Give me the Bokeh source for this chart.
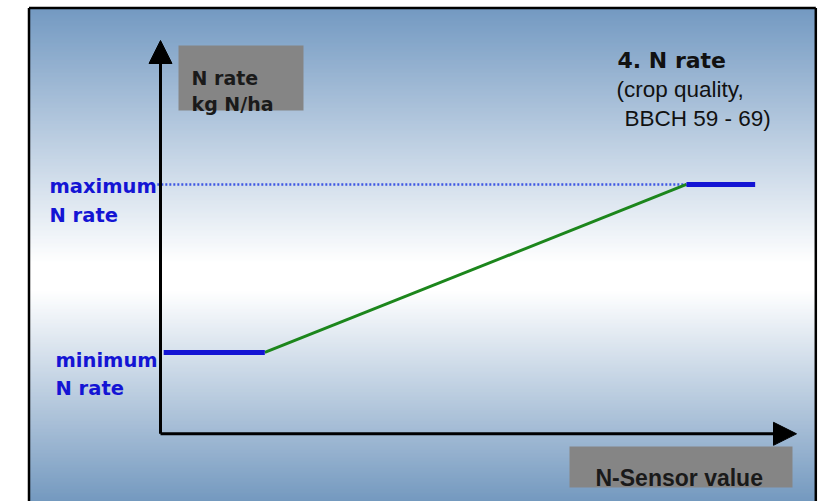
import numpy as np
from bokeh.plotting import figure
from bokeh.models import Range1d, Arrow, NormalHead
from bokeh.core.properties import value
from bokeh.embed import file_html
from bokeh.resources import INLINE

# ---------------- data (conceptual units: 0..100 on both axes) ----------------
sensor_points = [0.5, 16.4, 82.7, 93.5]      # N-Sensor value breakpoints
n_rate_points = [20.7, 20.7, 63.4, 63.4]     # N rate at those breakpoints
min_rate = 20.7
max_rate = 63.4
axis_max = 100
y_label_lines = ["N rate", "kg N/ha"]
x_label = "N-Sensor value"
title_lines = ["4. N rate", "(crop quality,", "BBCH 59 - 69)"]
max_label = ["maximum", "N rate"]
min_label = ["minimum", "N rate"]

# ---------------- layout ----------------
W, H = 826, 501
X0_PX, Y0_PX = 160.0, 433.3     # canvas position of the axes origin
PX_PER_X = 6.36
PX_PER_Y = 3.933

p = figure(width=W, height=H, output_backend="svg", toolbar_location=None,
           x_range=Range1d(-X0_PX / PX_PER_X, (W - X0_PX) / PX_PER_X),
           y_range=Range1d(-(H - Y0_PX) / PX_PER_Y, Y0_PX / PX_PER_Y),
           x_axis_type=None, y_axis_type=None, min_border=0)
p.extra_x_ranges = {"px": Range1d(0, W)}
p.extra_y_ranges = {"px": Range1d(H, 0)}
p.outline_line_color = None
p.background_fill_color = "white"
p.border_fill_color = "white"
p.grid.visible = False

PX = dict(x_range_name="px", y_range_name="px")

# ---------------- gradient background ----------------
top_c = np.array([96, 139, 185], dtype=float)
bot_c = np.array([96, 138, 182], dtype=float)
white = np.array([255, 255, 255], dtype=float)
ys = np.arange(8, H, 1.0)
cols = []
for py in ys:
    if py < 262:
        t = (py - 8) / (262 - 8)
        c = top_c + (white - top_c) * t
    elif py < 290:
        c = white
    else:
        t = min(1.0, (py - 290) / (501 - 290))
        c = white + (bot_c - white) * t
    cols.append("#%02x%02x%02x" % tuple(int(round(v)) for v in c))
p.quad(left=28.5, right=815.3, top=ys, bottom=ys + 1.3, fill_color=cols,
       line_color=None, **PX)

# frame border
p.line(x=[28.5, 28.5], y=[7.5, H], line_color="black", line_width=2.5, **PX)
p.line(x=[815.3, 815.3], y=[7.5, H], line_color="black", line_width=2.5, **PX)
p.line(x=[28.5, 815.3], y=[7.5, 7.5], line_color="black", line_width=2.5, **PX)

# ---------------- label boxes ----------------
p.quad(left=178, right=303, top=45, bottom=110, fill_color="#858585", line_color=None, **PX)
p.quad(left=569, right=792, top=446, bottom=487, fill_color="#858585", line_color=None, **PX)

# ---------------- data lines ----------------
# dotted guide to maximum rate
p.line(x=[-0.5, sensor_points[2]], y=[max_rate, max_rate], line_color="#3f57e2",
       line_width=2.5, line_dash="2 2")
# ramp
p.line(x=sensor_points[1:3], y=n_rate_points[1:3], line_color="#1c861c", line_width=3)
# plateaus
p.line(x=sensor_points[0:2], y=n_rate_points[0:2], line_color="#1414d4", line_width=5)
p.line(x=sensor_points[2:4], y=n_rate_points[2:4], line_color="#1414d4", line_width=5)

# ---------------- axes with arrows ----------------
p.add_layout(Arrow(end=NormalHead(size=23, fill_color="black", line_color="black", line_width=1),
                   x_start=0, y_start=0, x_end=0, y_end=axis_max,
                   line_color="black", line_width=3))
p.add_layout(Arrow(end=NormalHead(size=23, fill_color="black", line_color="black", line_width=1),
                   x_start=0, y_start=0, x_end=axis_max, y_end=0,
                   line_color="black", line_width=3))

# ---------------- texts ----------------
def txt(x, y, s, font, size, color, bold=True):
    p.text(x=[x], y=[y], text=[s], text_font=value(font), text_font_size=value(size),
           text_font_style="bold" if bold else "normal", text_color=color,
           text_align="left", text_baseline="alphabetic", **PX)

txt(191, 77, y_label_lines[0], "DejaVu Sans", "19px", "#1a1a1a")
txt(191, 103, y_label_lines[1], "DejaVu Sans", "19px", "#1a1a1a")
txt(595, 477, x_label, "Liberation Sans", "23px", "#1a1a1a")

txt(617, 60, title_lines[0], "DejaVu Sans", "22px", "#111111")
txt(616, 89, title_lines[1], "Liberation Sans", "22.5px", "#111111", bold=False)
txt(624, 118, title_lines[2], "Liberation Sans", "22.5px", "#111111", bold=False)

txt(49, 186, max_label[0], "DejaVu Sans", "19.5px", "#1414d4")
txt(49, 215, max_label[1], "DejaVu Sans", "19.5px", "#1414d4")
txt(55, 360, min_label[0], "DejaVu Sans", "19.5px", "#1414d4")
txt(55, 388, min_label[1], "DejaVu Sans", "19.5px", "#1414d4")

open("out.html", "w").write(file_html(p, INLINE))
